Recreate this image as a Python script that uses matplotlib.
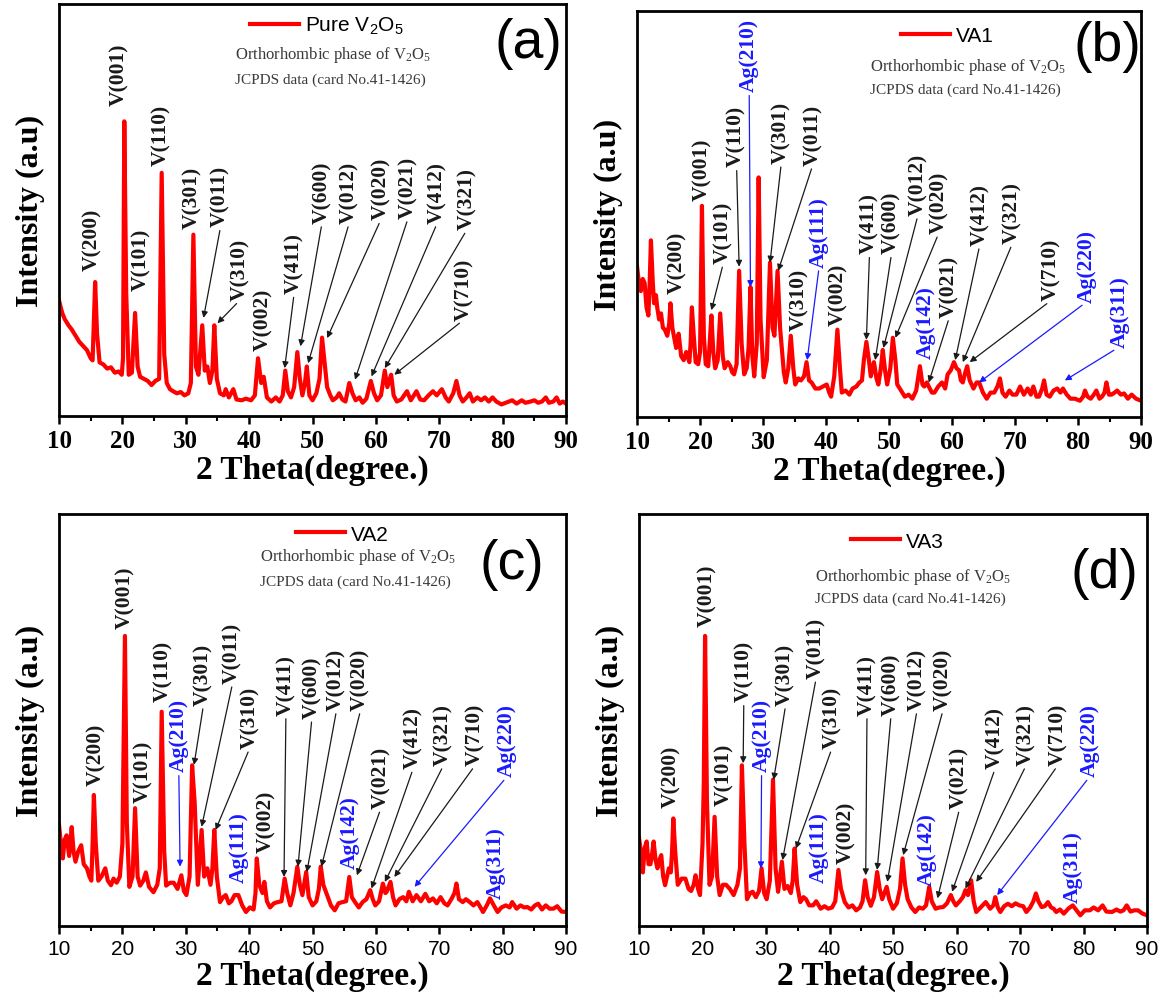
import numpy as np
import matplotlib
matplotlib.use("Agg")
import matplotlib.pyplot as plt
from matplotlib.ticker import MultipleLocator

# XRD patterns: (2 theta, intensity in a.u.)
pattern_a = [
    (10.0, 28), (10.5, 25), (10.9, 23.5), (11.5, 22), (12.0, 21), (12.6, 19.5), (13.2, 18),
    (13.8, 17), (14.4, 16), (15.0, 14), (15.3, 13.5), (15.7, 32.5), (16.0, 20), (16.4, 13),
    (17.0, 12.5), (17.6, 11.5), (18.2, 11.8), (18.8, 10.5), (19.4, 10.8), (19.9, 10), (20.1, 14),
    (20.3, 71.5), (20.6, 30), (21.0, 10), (21.5, 10.5), (22.0, 25), (22.4, 12), (22.8, 9.5),
    (23.4, 9), (24.0, 8.5), (24.6, 7.5), (25.2, 8.5), (25.8, 9), (26.2, 59), (26.6, 15),
    (27.0, 8), (27.5, 6.5), (28.0, 6), (28.6, 5.5), (29.2, 5.8), (29.8, 5), (30.4, 5.5),
    (30.8, 8), (31.2, 44), (31.6, 12), (32.0, 10), (32.6, 22), (33.0, 11), (33.4, 12),
    (33.8, 8), (34.2, 11), (34.5, 22), (34.9, 9), (35.4, 5.5), (36.0, 5), (36.3, 6.5),
    (36.8, 4.5), (37.5, 6.5), (38.0, 4), (38.8, 3.8), (39.5, 4.2), (40.3, 3.8), (40.9, 5),
    (41.4, 14), (41.9, 8), (42.3, 9.5), (42.8, 4.5), (43.5, 3.5), (44.2, 4.5), (44.8, 3.5),
    (45.3, 5), (45.7, 11), (46.1, 6), (46.6, 4.5), (47.1, 7), (47.6, 15.5), (48.0, 9),
    (48.4, 5), (48.8, 8), (49.1, 12), (49.5, 5), (50.0, 3.8), (50.6, 5.5), (51.1, 9),
    (51.5, 19), (51.9, 13), (52.3, 7), (52.8, 5), (53.2, 3.8), (53.8, 4.5), (54.2, 5.5),
    (54.7, 4), (55.2, 3.5), (55.8, 8), (56.3, 5.5), (56.8, 3.8), (57.4, 4.5), (57.9, 3.2),
    (58.5, 4.2), (59.2, 8.5), (59.7, 5.5), (60.2, 3.8), (60.8, 5), (61.4, 11), (61.8, 7),
    (62.4, 10), (62.8, 5), (63.3, 3.5), (64.0, 4), (64.9, 6), (65.5, 3.8), (66.4, 6),
    (67.0, 4), (67.6, 3.8), (68.3, 5), (69.0, 6), (69.6, 5), (70.4, 6.5), (71.0, 4.5),
    (71.5, 3.5), (72.2, 5.5), (72.7, 8.5), (73.2, 5), (73.7, 3.5), (74.3, 4.5), (74.8, 5.5),
    (75.3, 3.5), (76.0, 4.5), (76.6, 3.8), (77.2, 4.5), (77.8, 3.5), (78.4, 4.5), (79.0, 3.5),
    (79.8, 2.8), (80.5, 3.2), (81.5, 3.8), (82.2, 3), (83.0, 3.8), (83.6, 3.2), (84.4, 3.5),
    (85.0, 3.8), (85.6, 3.2), (86.2, 3.5), (86.8, 4.5), (87.3, 3.2), (88.0, 3.5), (88.5, 4.5),
    (89.0, 3), (89.5, 3.5), (90.0, 3),
]

pattern_b = [
    (10.0, 37), (10.3, 33), (10.6, 31), (10.9, 34), (11.2, 33), (11.5, 27), (11.8, 25),
    (12.0, 33), (12.2, 43.5), (12.5, 33), (12.7, 28), (13.0, 30), (13.2, 27), (13.5, 24),
    (13.8, 25.5), (14.1, 22), (14.4, 21.5), (14.8, 20), (15.1, 23), (15.3, 28), (15.6, 22),
    (15.9, 19.5), (16.2, 17), (16.6, 20.5), (17.0, 15), (17.4, 14), (17.8, 16), (18.3, 13.5),
    (18.5, 18), (18.7, 27), (19.0, 20), (19.3, 13.5), (19.7, 13), (20.0, 16), (20.3, 52),
    (20.6, 20), (20.9, 13), (21.3, 12.5), (21.8, 25), (22.1, 16), (22.4, 12), (22.8, 14),
    (23.2, 25.5), (23.6, 15), (23.9, 12), (24.4, 13.5), (24.8, 12.5), (25.1, 11), (25.4, 10.5),
    (25.8, 13), (26.2, 36), (26.6, 18), (27.0, 10.5), (27.4, 12), (27.7, 17), (28.0, 32),
    (28.3, 15), (28.6, 10), (29.0, 18), (29.3, 59), (29.6, 24), (30.1, 9.8), (30.6, 14),
    (31.1, 38), (31.5, 22), (31.8, 20), (32.3, 36), (32.7, 22), (33.0, 16.5), (33.3, 11),
    (33.6, 8.5), (34.0, 12), (34.4, 20), (34.8, 12), (35.1, 8), (35.6, 9.5), (36.0, 9),
    (36.5, 10), (36.9, 13.5), (37.3, 9), (37.7, 8.5), (38.3, 7), (38.9, 7), (39.5, 7.5),
    (40.1, 8), (40.5, 6), (40.8, 5), (41.3, 10), (41.8, 21.5), (42.2, 12), (42.5, 6),
    (43.1, 6.5), (43.7, 5.5), (44.2, 7), (44.8, 7.5), (45.3, 8.5), (45.7, 9), (46.0, 14),
    (46.4, 18.5), (46.8, 14), (47.1, 10), (47.6, 13.5), (48.0, 9.5), (48.3, 8), (48.7, 12),
    (49.0, 16.5), (49.4, 11), (49.7, 8), (50.2, 12), (50.6, 19.5), (51.0, 14), (51.3, 8),
    (51.9, 6.5), (52.5, 5), (53.1, 5.5), (53.7, 4.5), (54.3, 6.5), (54.9, 12.5), (55.3, 8),
    (55.6, 7.5), (56.0, 8.5), (56.3, 7.5), (56.8, 6), (57.2, 6), (57.8, 7.5), (58.4, 8.5),
    (58.9, 7), (59.3, 10.5), (59.8, 11.5), (60.3, 13.5), (60.7, 12), (61.1, 11.5), (61.4, 9),
    (61.7, 8.5), (62.1, 11), (62.4, 12.5), (62.8, 9), (63.4, 7), (63.9, 8.5), (64.3, 8.5),
    (64.9, 6), (65.5, 4.5), (66.1, 6), (66.7, 6), (67.2, 7.5), (67.6, 9.5), (68.0, 6),
    (68.5, 5), (69.1, 6.5), (69.6, 5.5), (70.2, 5.5), (70.8, 7.5), (71.4, 5.5), (72.0, 7),
    (72.5, 5.5), (72.9, 7.5), (73.4, 5), (73.8, 5), (74.3, 7), (74.6, 9), (75.0, 5.5),
    (75.5, 5), (76.1, 6.5), (76.7, 7), (77.2, 6), (77.6, 7), (78.2, 5.5), (78.8, 4.5),
    (79.5, 4.5), (80.3, 4), (80.8, 5), (81.1, 6.5), (81.5, 5), (82.0, 4.5), (82.5, 5.5),
    (82.9, 6.5), (83.4, 4.5), (83.8, 5), (84.2, 6), (84.5, 8.5), (84.9, 5.5), (85.3, 5.5),
    (85.8, 6), (86.2, 6.5), (86.8, 5.5), (87.3, 5.8), (87.9, 4.5), (88.5, 5.5), (89.2, 4.5),
    (90.0, 4),
]

pattern_c = [
    (10.0, 24.5), (10.3, 20), (10.6, 16.4), (10.9, 21), (11.2, 22), (11.6, 17), (12.0, 24),
    (12.3, 18), (12.6, 15.6), (13.0, 18), (13.5, 19.6), (13.9, 15), (14.4, 14), (14.8, 12),
    (15.1, 11), (15.3, 20), (15.5, 31.8), (15.8, 20), (16.2, 11), (16.7, 12), (17.3, 14),
    (17.7, 11), (18.2, 9.9), (18.6, 11.5), (19.1, 10.5), (19.6, 12), (20.0, 20), (20.4, 70.4),
    (20.7, 25), (21.1, 9.5), (21.6, 12), (22.0, 28.6), (22.4, 12), (22.8, 9.8), (23.3, 11),
    (23.7, 13), (24.2, 9.5), (24.9, 8.2), (25.5, 10), (25.9, 14), (26.2, 52), (26.6, 18),
    (26.9, 9.8), (27.5, 10.5), (28.1, 10.5), (28.7, 9), (29.3, 12.3), (29.7, 8.5), (30.1, 7.5),
    (30.6, 12), (31.0, 39), (31.4, 30), (31.9, 10), (32.5, 23.3), (32.9, 12), (33.4, 14),
    (33.9, 10), (34.2, 14), (34.5, 23.3), (34.9, 12), (35.4, 5.8), (35.9, 7), (36.3, 7.5),
    (36.8, 5.5), (37.2, 6), (37.7, 7.5), (38.3, 7.5), (38.9, 5), (39.5, 3.4), (40.1, 4.5),
    (40.7, 4), (41.0, 8), (41.2, 16.4), (41.6, 10), (42.1, 8), (42.4, 10.7), (42.8, 6),
    (43.3, 4.5), (43.9, 5.5), (44.5, 5.8), (45.1, 6), (45.6, 11.5), (46.0, 8), (46.5, 5),
    (47.0, 8), (47.6, 14.4), (48.0, 10), (48.4, 7.5), (49.0, 13.1), (49.4, 7), (50.0, 5),
    (50.6, 6), (51.0, 9), (51.3, 14.4), (51.7, 10), (52.3, 7.5), (52.9, 5), (53.5, 3.8),
    (54.1, 5.5), (54.7, 5.8), (55.3, 6), (55.8, 11.9), (56.2, 7), (56.7, 5.8), (57.3, 4.5),
    (57.9, 5.8), (58.5, 6.5), (59.1, 8.7), (59.5, 6.5), (59.9, 5), (60.5, 6), (61.1, 10.3),
    (61.5, 8), (61.7, 8.3), (62.3, 10.7), (62.7, 7), (63.1, 5), (63.7, 6.5), (64.3, 7),
    (64.8, 6), (65.2, 8.3), (65.8, 6), (66.4, 7.5), (67.1, 6), (67.8, 7.8), (68.4, 6),
    (69.0, 6.7), (69.6, 5.5), (70.2, 7), (70.8, 5.5), (71.3, 5), (71.9, 6.5), (72.4, 8),
    (72.7, 10.3), (73.1, 6.5), (73.7, 5.8), (74.2, 6.5), (74.8, 5.8), (75.4, 5), (76.0, 5.8),
    (76.5, 4.5), (76.9, 3.4), (77.5, 5), (78.0, 6.7), (78.6, 5), (79.2, 3.4), (79.8, 4.5),
    (80.5, 5), (81.1, 4.5), (81.5, 5.8), (82.2, 4.2), (82.8, 5), (83.4, 4.5), (83.9, 4.6),
    (84.5, 4), (85.1, 5), (85.6, 5.4), (86.2, 4), (86.8, 5), (87.4, 4.2), (88.0, 4.2),
    (88.6, 4.8), (89.3, 3.5), (90.0, 3.4),
]

pattern_d = [
    (10.0, 21.3), (10.3, 18), (10.6, 13), (10.9, 19), (11.2, 20.5), (11.5, 15), (11.8, 15),
    (12.1, 18), (12.3, 20.5), (12.6, 16), (12.9, 14), (13.2, 16), (13.5, 17.2), (13.8, 12),
    (14.1, 9.9), (14.4, 12), (14.7, 14), (15.0, 13), (15.2, 18), (15.4, 26.1), (15.7, 18),
    (16.1, 10), (16.7, 11.5), (17.3, 11.5), (17.8, 9), (18.2, 8.5), (18.6, 10), (18.9, 12.3),
    (19.3, 9), (19.6, 7.5), (20.0, 20), (20.2, 35), (20.4, 70.4), (20.7, 30), (21.1, 10),
    (21.5, 12), (21.9, 26.5), (22.3, 12), (22.7, 7.5), (23.2, 10), (23.7, 10), (24.3, 9),
    (24.9, 7.5), (25.5, 10), (25.9, 14), (26.2, 39), (26.6, 20), (27.0, 6.5), (27.5, 8),
    (27.9, 8.3), (28.4, 7), (28.9, 8.5), (29.3, 14), (29.7, 8), (30.1, 6.5), (30.6, 11),
    (31.1, 35.5), (31.5, 14), (31.9, 8.3), (32.5, 15.6), (32.9, 9), (33.4, 9.7), (33.9, 8),
    (34.2, 11), (34.5, 18.8), (34.9, 10), (35.4, 5.8), (35.9, 7), (36.3, 6.5), (36.8, 5),
    (37.4, 5), (37.9, 6), (38.6, 4.2), (39.2, 4.8), (39.8, 4.2), (40.4, 4.5), (40.9, 6),
    (41.4, 13.6), (41.8, 9), (42.4, 5.8), (43.0, 4.5), (43.6, 5), (44.2, 3.8), (44.8, 4.5),
    (45.2, 6), (45.6, 11.1), (46.0, 7), (46.5, 4.9), (47.0, 7), (47.5, 13.1), (47.9, 9),
    (48.3, 6.5), (49.0, 9.5), (49.4, 6.5), (50.0, 4.2), (50.6, 5.5), (51.1, 9), (51.5, 16.4),
    (51.9, 10), (52.3, 6.5), (52.9, 4.5), (53.5, 3.4), (54.1, 4.5), (54.7, 4.2), (55.2, 5),
    (55.7, 9.5), (56.1, 6), (56.7, 4.2), (57.3, 4.5), (57.9, 4.6), (58.5, 5.5), (59.1, 7.5),
    (59.5, 6), (59.9, 5), (60.5, 6), (61.0, 7), (61.4, 8.7), (61.8, 7.5), (62.3, 11.1),
    (62.7, 6), (63.1, 3.4), (63.8, 4.5), (64.6, 5.8), (65.3, 4.2), (65.8, 5), (66.1, 7),
    (66.5, 4.5), (66.9, 3.4), (67.5, 4.8), (68.1, 5.4), (68.7, 4.8), (69.3, 5.5), (69.9, 5),
    (70.5, 4.8), (71.0, 3.4), (71.6, 4.5), (72.1, 6), (72.5, 7.9), (72.9, 6), (73.4, 4.6),
    (73.9, 4.8), (74.4, 5.8), (74.9, 4.5), (75.3, 4.2), (75.7, 3.4), (76.3, 4), (76.9, 3),
    (77.6, 4.2), (78.3, 5), (78.9, 3.8), (79.5, 2.6), (80.2, 3.8), (81.0, 3.8), (81.6, 4.5),
    (82.3, 3.8), (83.0, 5), (83.6, 3.5), (84.5, 3.4), (85.2, 4), (85.8, 3.5), (86.3, 3.8),
    (86.8, 5), (87.4, 3.5), (88.0, 3.8), (88.6, 3.8), (89.3, 3), (90.0, 2.6),
]

samples = ["Pure $\\mathregular{V_2O_5}$", "VA1", "VA2", "VA3"]
panel_tags = ["(a)", "(b)", "(c)", "(d)"]

# peak labels: (label, text x, text bottom, arrow tip or None)
marks_a = [
    ("V(200)", 15.3, 35.5, None), ("V(001)", 19.5, 75.5, None),
    ("V(101)", 23.0, 30.5, None), ("V(110)", 26.1, 61, None),
    ("V(301)", 31.0, 45.5, None), ("V(011)", 35.5, 46, (32.8, 23.8)),
    ("V(310)", 38.6, 28.2, (35.0, 22.5)), ("V(002)", 42.3, 16, None),
    ("V(411)", 47.1, 29.8, (45.6, 11.6)), ("V(600)", 51.5, 46.9, (48.1, 16.9)),
    ("V(012)", 55.8, 46.9, (49.3, 12.8)), ("V(020)", 60.8, 47.7, (52.3, 18.9)),
    ("V(021)", 65.1, 48.1, (56.7, 8.8)), ("V(412)", 69.7, 46.9, (59.3, 9.6)),
    ("V(321)", 74.4, 45.3, (61.4, 11.6)), ("V(710)", 73.9, 23.4, (62.9, 10)),
]
marks_b = [
    ("V(200)", 16.4, 30.5, None), ("V(001)", 20.3, 53.5, None),
    ("V(101)", 23.7, 37.9, (21.8, 26.3)), ("V(110)", 25.8, 61.7, (26.2, 37)),
    ("Ag(210)", 27.8, 80.2, (28.0, 32)), ("V(301)", 32.9, 62.6, (31.1, 38)),
    ("V(011)", 37.9, 62.1, (32.4, 36)), ("V(310)", 35.7, 21.4, None),
    ("Ag(111)", 38.9, 37, (37.0, 14)), ("V(002)", 41.9, 22.6, None),
    ("V(411)", 46.9, 40.3, (46.4, 19)), ("V(600)", 50.4, 40.3, (47.8, 14)),
    ("V(012)", 54.6, 49.8, (49.1, 17)), ("V(020)", 57.9, 45.3, (51.0, 19.5)),
    ("Ag(142)", 55.8, 14.4, None), ("V(021)", 59.6, 24.7, (56.3, 8.5)),
    ("V(412)", 64.4, 42.4, (60.5, 14)), ("V(321)", 69.6, 42.8, (61.7, 13.5)),
    ("V(710)", 75.8, 28.8, (62.8, 13.5)), ("Ag(220)", 81.4, 28.4, (64.3, 8.5)),
    ("Ag(311)", 86.6, 17.3, (77.9, 9)),
]
marks_c = [
    ("V(200)", 15.8, 34.3, None), ("V(001)", 20.5, 72.4, None),
    ("V(101)", 23.3, 30.2, None), ("V(110)", 26.4, 54.5, None),
    ("Ag(210)", 28.9, 37.5, (29.1, 14.4)), ("V(301)", 32.8, 53.7, (31.3, 39.1)),
    ("V(011)", 37.4, 59, (32.5, 24.1)), ("V(310)", 40.1, 43.2, (34.7, 23.3)),
    ("Ag(111)", 38.3, 10.7, None), ("V(002)", 42.7, 18, None),
    ("V(411)", 45.8, 51.3, (45.5, 11.9)), ("V(600)", 49.9, 50.5, (47.7, 14.4)),
    ("V(012)", 53.8, 52.5, (49.1, 13.1)), ("V(020)", 57.6, 52.5, (51.4, 14.4)),
    ("Ag(142)", 55.8, 14, None), ("V(021)", 60.8, 28.6, (57.0, 12.3)),
    ("V(412)", 65.9, 38.3, (59.3, 9.1)), ("V(321)", 70.7, 39.1, (61.4, 10.7)),
    ("V(710)", 75.7, 39.1, (62.9, 11.9)), ("Ag(220)", 80.7, 36.3, (66.1, 9.5)),
    ("Ag(311)", 78.9, 6.7, None),
]
marks_d = [
    ("V(200)", 15.0, 29, None), ("V(001)", 20.8, 72.8, None),
    ("V(101)", 23.4, 29.4, None), ("V(110)", 26.5, 54.5, (26.4, 39.5)),
    ("Ag(210)", 29.3, 37.5, (29.2, 14)), ("V(301)", 33.1, 53.7, (31.2, 35.5)),
    ("V(011)", 37.9, 60.2, (32.6, 16)), ("V(310)", 40.4, 43.2, (34.7, 18.8)),
    ("Ag(111)", 38.3, 10.7, None), ("V(002)", 42.7, 15.2, None),
    ("V(411)", 45.9, 51.3, (45.7, 12.3)), ("V(600)", 49.7, 51.3, (47.5, 13.6)),
    ("V(012)", 53.8, 52.5, (49.1, 10.7)), ("V(020)", 57.9, 52.5, (51.6, 17.2)),
    ("Ag(142)", 55.3, 9.9, None), ("V(021)", 60.5, 28.6, (57.0, 6.7)),
    ("V(412)", 66.1, 38.3, (59.3, 8.3)), ("V(321)", 71.0, 39.1, (61.4, 9.1)),
    ("V(710)", 76.0, 39.1, (63.1, 10.7)), ("Ag(220)", 81.0, 36.3, (66.4, 7.5)),
    ("Ag(311)", 78.3, 5.8, None),
]

SERIF = "Liberation Serif"
SANS = "Liberation Sans"
BLUE = "#1a1aff"

fig = plt.figure(figsize=(11.64, 10.04), dpi=100)

# axes rectangles in figure fractions
rects = [
    [0.0507, 0.5847, 0.4356, 0.4104],
    [0.5473, 0.5837, 0.4330, 0.4044],
    [0.0507, 0.0767, 0.4356, 0.4104],
    [0.5490, 0.0767, 0.4364, 0.4104],
]
legend_pos = [(0.377, 0.947), (0.524, 0.940), (0.467, 0.951), (0.417, 0.934)]
note_pos = [(0.347, 0.879, 0.818), (0.462, 0.865, 0.808),
            (0.396, 0.898, 0.837), (0.346, 0.850, 0.796)]
tag_pos = [(0.925, 0.905), (0.933, 0.914), (0.893, 0.879), (0.917, 0.857)]
tick_fonts = [(SERIF, "bold", 18), (SERIF, "bold", 18), (SANS, "normal", 15), (SANS, "normal", 15)]

patterns = [pattern_a, pattern_b, pattern_c, pattern_d]
all_marks = [marks_a, marks_b, marks_c, marks_d]

for i in range(4):
    ax = fig.add_axes(rects[i])
    data = np.array(patterns[i])
    ax.plot(data[:, 0], data[:, 1], color="#ff0000", lw=3.0, label=samples[i])
    ax.set_xlim(10, 90)
    ax.set_ylim(0, 100)

    for sp in ax.spines.values():
        sp.set_linewidth(2)
    ax.xaxis.set_major_locator(MultipleLocator(10))
    ax.xaxis.set_minor_locator(MultipleLocator(5))
    ax.tick_params(axis="x", which="major", direction="out", length=6, width=1.8)
    ax.tick_params(axis="x", which="minor", direction="out", length=3.5, width=1.5)
    ax.set_yticks([])
    fam, wt, sz = tick_fonts[i]
    for lab in ax.get_xticklabels():
        lab.set_fontfamily(fam)
        lab.set_fontweight(wt)
        lab.set_fontsize(sz)

    ax.set_xlabel("2 Theta(degree.)", fontfamily=SERIF, fontweight="bold", fontsize=24, labelpad=1)
    ax.set_ylabel("Intensity (a.u)", fontfamily=SERIF, fontweight="bold", fontsize=23, labelpad=10)

    ax.legend(loc="center left", bbox_to_anchor=legend_pos[i], frameon=False,
              handlelength=2.35, handletextpad=0.3, borderpad=0, borderaxespad=0,
              prop={"family": SANS, "size": 15})

    nx, ny1, ny2 = note_pos[i]
    ax.text(nx, ny1, "Orthorhombic phase of $\\mathregular{V_2O_5}$", transform=ax.transAxes,
            fontfamily=SERIF, fontsize=12, color="#3a3a3a", va="center")
    ax.text(nx, ny2, "JCPDS data (card No.41-1426)", transform=ax.transAxes,
            fontfamily=SERIF, fontsize=11, color="#3a3a3a", va="center")

    tx, ty = tag_pos[i]
    ax.text(tx, ty, panel_tags[i], transform=ax.transAxes, fontfamily=SANS,
            fontsize=40, ha="center", va="center")

    for label, lx, ly, tip in all_marks[i]:
        color = BLUE if label.startswith("Ag") else "#1a1a1a"
        if tip is None:
            ax.text(lx, ly, label, rotation=90, ha="center", va="bottom", color=color,
                    fontfamily=SERIF, fontweight="bold", fontsize=15.5)
        else:
            ax.annotate(label, xy=tip, xytext=(lx, ly), rotation=90, ha="center", va="bottom",
                        color=color, fontfamily=SERIF, fontweight="bold", fontsize=15.5,
                        arrowprops=dict(arrowstyle="-|>", color=color, lw=0.9,
                                        mutation_scale=9, shrinkA=1, shrinkB=0,
                                        relpos=(0.5, 0.0)))

fig.savefig("out.png", dpi=100)
